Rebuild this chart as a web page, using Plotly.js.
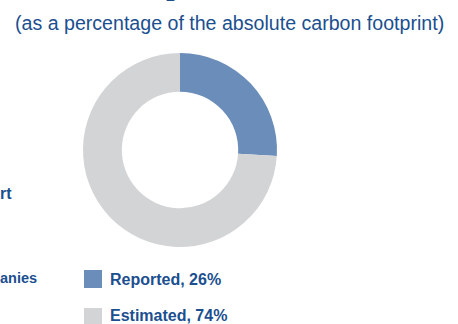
<!DOCTYPE html>
<html><head><meta charset="utf-8">
<script src="https://cdn.plot.ly/plotly-3.0.1.min.js"></script>
<style>html,body{margin:0;padding:0;background:#fff}#c{width:458px;height:324px}</style>
</head><body><div id="c"></div>
<script>
const categories = ["Reported", "Estimated"];
const values = [26, 74];
const colors = ["#6a8dba", "#d3d4d6"];
const legendLabels = ["Reported, 26%", "Estimated, 74%"];
const titleText = "(as a percentage of the absolute carbon footprint)";
const topLabel = "2";
const sideLabels = ["rt", "anies"];

const W = 458, H = 324;
const px = x => x / W, py = y => 1 - y / H;
const textColor = "#1b4f8f";
const FONT = "Liberation Sans, Arial";

const trace = {
  type: "pie", labels: categories, values: values, hole: 0.6,
  sort: false, direction: "clockwise", rotation: 0,
  marker: {colors: colors, line: {width: 0}},
  textinfo: "none", hoverinfo: "none", showlegend: false,
  domain: {x: [px(83), px(277)], y: [py(247), py(53)]}
};

const annotations = [
  {text: titleText, x: px(230), y: py(23), xref: "paper", yref: "paper", showarrow: false,
   xanchor: "center", yanchor: "middle", font: {family: FONT, size: 19.6, color: textColor}},
  {text: "<b>" + topLabel + "</b>", x: px(170), y: py(6), xref: "paper", yref: "paper", showarrow: false,
   xanchor: "center", yanchor: "bottom", font: {family: FONT, size: 16, color: textColor}},
  {text: "<b>" + sideLabels[0] + "</b>", x: 0, y: py(193), xref: "paper", yref: "paper", showarrow: false,
   xanchor: "left", yanchor: "middle", xshift: -2, font: {family: FONT, size: 16, color: textColor}},
  {text: "<b>" + sideLabels[1] + "</b>", x: 0, y: py(278), xref: "paper", yref: "paper", showarrow: false,
   xanchor: "left", yanchor: "middle", xshift: -2, font: {family: FONT, size: 14.5, color: textColor}}
];
const shapes = [];
const legendTop = [270, 308];
const legendTextY = [279, 315];
legendLabels.forEach((lab, i) => {
  shapes.push({type: "rect", xref: "paper", yref: "paper", x0: px(84), x1: px(102),
    y0: py(legendTop[i] + 18), y1: py(legendTop[i]), fillcolor: colors[i], line: {width: 0}});
  annotations.push({text: "<b>" + lab + "</b>", x: px(108), y: py(legendTextY[i]), xref: "paper", yref: "paper",
    showarrow: false, xanchor: "left", yanchor: "middle",
    font: {family: FONT, size: 16, color: textColor}});
});

Plotly.newPlot("c", [trace], {
  width: W, height: H, margin: {l: 0, r: 0, t: 0, b: 0},
  paper_bgcolor: "#fff", plot_bgcolor: "#fff",
  showlegend: false, annotations: annotations, shapes: shapes
}, {staticPlot: true});
</script></body></html>
